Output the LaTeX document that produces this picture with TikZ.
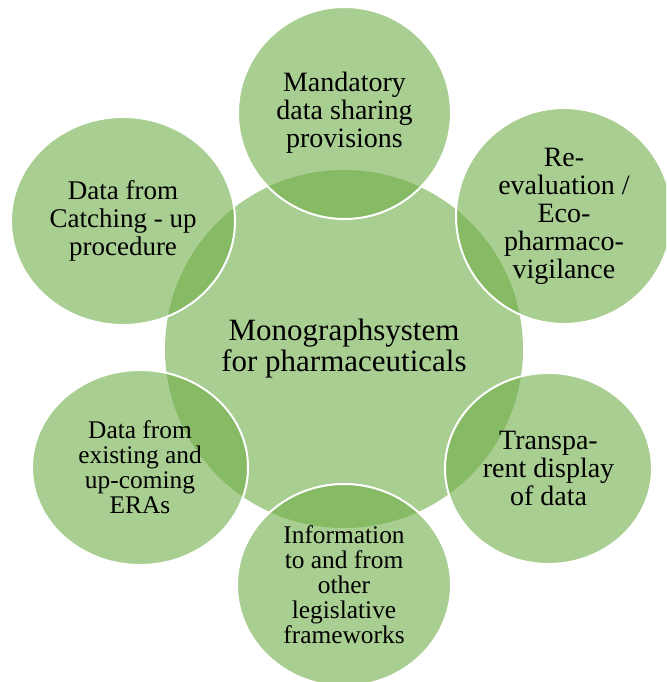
\documentclass[tikz,border=0pt]{standalone}
\usepackage{fontspec}
\setmainfont{Liberation Serif}
\usepackage{xcolor}
\usepackage{tikz}
\usetikzlibrary{shapes.geometric}

\definecolor{leafgreen}{RGB}{112,173,71}

\begin{document}
\begin{tikzpicture}[x=1pt, y=-1pt,
            hub/.style={ellipse, fill=leafgreen, fill opacity=0.6, text opacity=1, inner sep=0pt, align=center, font=\fontsize{31}{31}\selectfont},
            spoke/.style={ellipse, fill=leafgreen, fill opacity=0.6, text opacity=1, draw=white, line width=2pt, inner sep=0pt, align=center, font=\fontsize{28}{28}\selectfont},
            lowspoke/.style={spoke, font=\fontsize{25.4}{25}\selectfont}]
            \clip (0,0) rectangle (666,682);

            % centre circle first, the six around it on top
            \node[hub, minimum width=358pt, minimum height=358pt] (mono) at (344,349) {Monographsystem\\for pharmaceuticals};

            \node[spoke, minimum width=213pt, minimum height=212pt] (sharing) at (344.5,113) {Mandatory\\data sharing\\provisions};
            \node[spoke, minimum width=216pt, minimum height=216pt] (reeval) at (564,216) {Re-\\evaluation /\\Eco-\\pharmaco-\\vigilance};
            \node[spoke, minimum width=207pt, minimum height=191pt] (display) at (548.5,468.5) {Transpa-\\rent display\\of data};
            \node[lowspoke, minimum width=214pt, minimum height=202pt] (frameworks) at (344,585) {Information\\to and from\\other\\legislative\\frameworks};
            \node[lowspoke, minimum width=216pt, minimum height=195pt] (eras) at (140,467.5) {Data from\\existing and\\up-coming\\ERAs};
            \node[spoke, font=\fontsize{27}{28}\selectfont, minimum width=224pt, minimum height=208pt] (catchup) at (123,221) {Data from\\Catching - up\\procedure};
        \end{tikzpicture}
\end{document}
